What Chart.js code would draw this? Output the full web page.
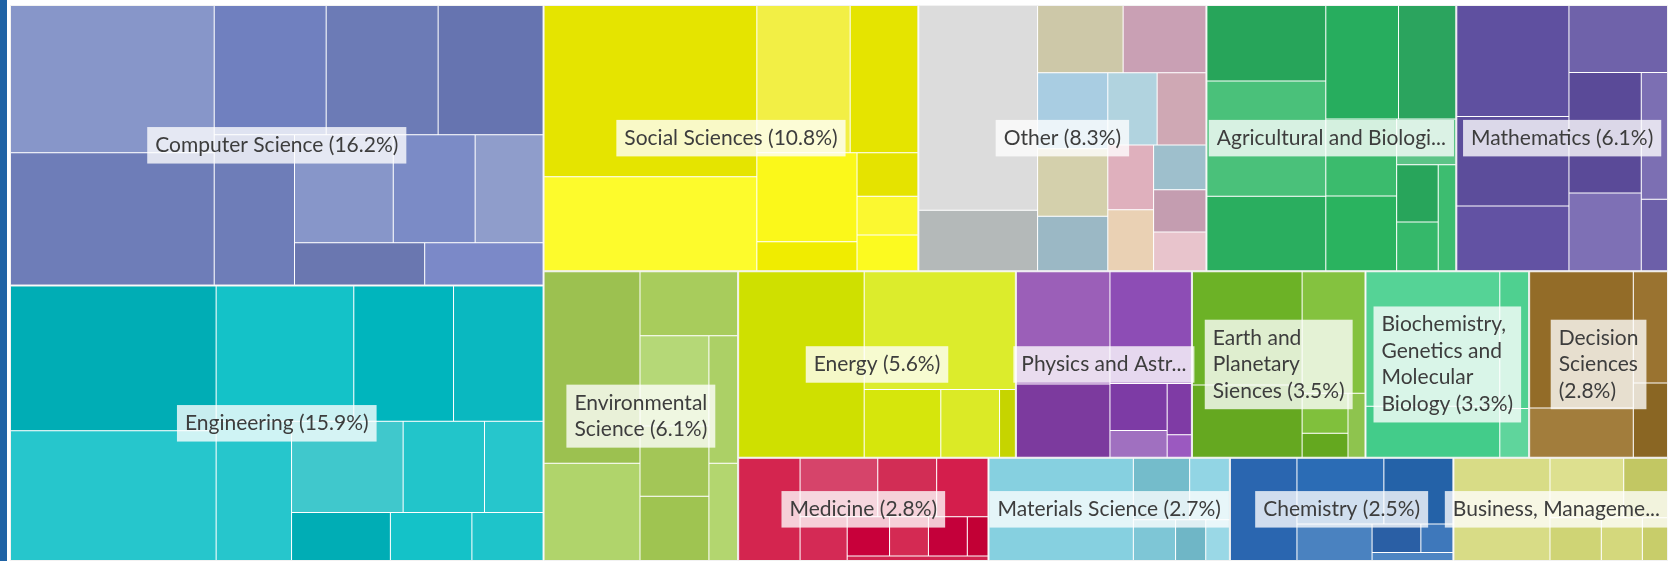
<!DOCTYPE html>
<html>
<head>
<meta charset="utf-8">
<script src="https://cdn.jsdelivr.net/npm/chart.js@4.4.1/dist/chart.umd.min.js"></script>
<style>
  body { margin: 0; background: #fff; }
  #wrap { position: relative; width: 1668px; height: 561px; }
  #frame { position: absolute; left: 0; top: 0; width: 7px; height: 561px; background: #1f63a5; }
</style>
</head>
<body>
<div id="wrap">
  <div id="frame"></div>
  <canvas id="myChart"></canvas>
</div>
<script>
// subject areas, share of output (%)
var categories = ['Computer Science', 'Engineering', 'Social Sciences', 'Other',
    'Agricultural and Biological Sciences', 'Mathematics', 'Environmental Science', 'Energy',
    'Physics and Astronomy', 'Earth and Planetary Sciences', 'Biochemistry, Genetics and Molecular Biology',
    'Decision Sciences', 'Medicine', 'Materials Science', 'Chemistry', 'Business, Management and Accounting'];
var shares = [16.2, 15.9, 10.8, 8.3, 7.2, 6.1, 6.1, 5.6, 3.55, 3.5, 3.3, 2.8, 2.8, 2.7, 2.5, 2.4];
// label text as shown on the chart
var labelText = [
    'Computer Science (16.2%)',
    'Engineering (15.9%)',
    'Social Sciences (10.8%)',
    'Other (8.3%)',
    'Agricultural and Biologi...',
    'Mathematics (6.1%)',
    'Environmental\nScience (6.1%)',
    'Energy (5.6%)',
    'Physics and Astr...',
    'Earth and\nPlanetary\nSiences (3.5%)',
    'Biochemistry,\nGenetics and\nMolecular\nBiology (3.3%)',
    'Decision\nSciences\n(2.8%)',
    'Medicine (2.8%)',
    'Materials Science (2.7%)',
    'Chemistry (2.5%)',
    'Business, Manageme...'
];
// sub-cells of every area (relative sizes)
var subShares = [
    [249, 224, 120, 120, 113, 100, 88, 73, 61, 46, 42],
    [250, 224, 156, 113, 102, 88, 85, 62, 45, 40, 33, 29],
    [247, 136, 93, 68, 60, 20, 18, 16, 15],
    [165, 49, 39, 38, 36, 32, 26, 24, 24, 20, 19, 16, 15, 14],
    [80, 121, 79, 73, 58, 48, 47, 24, 21, 18, 17],
    [111, 89, 65, 59, 77, 50, 30, 17],
    [149, 76, 51, 50, 39, 36, 30, 23],
    [211, 161, 47, 36, 10],
    [75, 49, 65, 19, 11, 9, 4],
    [89, 57, 55, 13, 8, 8],
    [126, 48, 28, 10],
    [55, 20, 15, 10],
    [46, 33, 25, 22, 15, 12, 11, 11, 6, 5],
    [60, 14, 10, 7, 5, 4],
    [30, 25, 20, 12, 6, 4, 3],
    [45, 20, 12, 10, 8, 5]
];
var subColors = [
    ['#8796c9', '#6e7db8', '#7080bf', '#6c7bb6', '#6674b0', '#6e7db8', '#8796c9', '#7b8bc6', '#8f9dcb', '#6a77b0', '#7b89c8'],
    ['#00adb5', '#26c6cc', '#14c2c8', '#00b5bd', '#0ab8c0', '#26c6cc', '#40c8cc', '#22c5ca', '#26c6cc', '#00adb5', '#14c2c8', '#1ec4ca'],
    ['#e5e400', '#fdfb2c', '#f2ef45', '#e5e400', '#fbf81a', '#f0ec00', '#e5e300', '#fbf830', '#fcfa20'],
    ['#dcdcdc', '#b4b9b9', '#cdc8a8', '#c9a0b4', '#a9cde2', '#d4d0ac', '#9bb8c5', '#b1d3df', '#cfa8b4', '#dfb0bd', '#ead1b4', '#9ebfcc', '#c49db0', '#e8c4cc'],
    ['#27a55a', '#4ac17a', '#2aae5f', '#27ad5e', '#2ba45e', '#3bbb6d', '#2ab35f', '#5cc487', '#28a55b', '#35b86a', '#3dbd70'],
    ['#5f50a0', '#5c4d9b', '#6252a3', '#6f62aa', '#5a4a98', '#7e70b5', '#7c6fb3', '#6c5fa9'],
    ['#9cc150', '#b0d46b', '#a8cc5c', '#b5d877', '#a3c657', '#9fc451', '#acd066', '#b3d66f'],
    ['#cfe000', '#dcec2c', '#d6e60c', '#dbea26', '#c6d400'],
    ['#9b5fb8', '#7c3a9e', '#8d4db5', '#7d3ba5', '#a070c0', '#7f3ba5', '#9b59c0'],
    ['#6cb226', '#65a820', '#84c23f', '#80c03c', '#64a81f', '#8ec44e'],
    ['#55d396', '#43cc8a', '#4fd090', '#5fd59c'],
    ['#936c28', '#a27d3c', '#9a7330', '#8a6623'],
    ['#d4254f', '#d6446a', '#d22d55', '#d41e4c', '#d42a55', '#c8003a', '#d42a53', '#c4003a', '#c20035', '#d2244f'],
    ['#86d0e0', '#74bccb', '#92d5e4', '#7ec6d6', '#6fb6c6', '#9ad8e6'],
    ['#2a66b0', '#2b6cb5', '#2462a8', '#4a82c0', '#2a5fa5', '#3e78bb', '#4d85c3'],
    ['#d8dc86', '#dde08f', '#c2c763', '#cfd475', '#d4d87c', '#c8cd6a']
];

// squarified layout (same steps as the Highcharts treemap)
function ratio(a, b) { return Math.max(a / b, b / a); }

function addElement(g, el) {
    var last = g.elArr[g.elArr.length - 1];
    g.total = g.total + el;
    if (g.direction === 0) {
        g.lW = g.nW;
        g.lR = ratio(g.lW, last / g.lW);
        g.nW = g.total / g.height;
        g.nR = ratio(g.nW, last / g.nW);
    } else {
        g.lH = g.nH;
        g.lR = ratio(last / g.lH, g.lH);
        g.nH = g.total / g.width;
        g.nR = ratio(last / g.nH, g.nH);
    }
    g.elArr.push(el);
}

function calcPoints(g, last, out, plot, parent) {
    var gW = g.lW, gH = g.lH, pTot;
    var end = g.elArr.length - 1;
    if (last) { gW = g.nW; gH = g.nH; } else { pTot = g.elArr[end]; }
    g.elArr.forEach(function(p, i) {
        if (last || i < end) {
            var pW, pH;
            if (g.direction === 0) { pW = gW; pH = p / pW; } else { pH = gH; pW = p / pH; }
            out.push({ x: plot.x, y: plot.y, width: pW, height: pH });
            if (g.direction === 0) plot.y += pH; else plot.x += pW;
        }
    });
    g.nW = 0; g.lW = 0; g.elArr = []; g.total = 0;
    if (g.direction === 0) g.width -= gW; else g.height -= gH;
    plot.y = parent.y + (parent.height - g.height);
    plot.x = parent.x + (parent.width - g.width);
    g.direction = 1 - g.direction;
    if (!last) addElement(g, pTot);
}

function squarify(parent, values) {
    var sum = values.reduce(function(a, b) { return a + b; }, 0);
    var g = { height: parent.height, width: parent.width, direction: 0, total: 0,
              nW: 0, lW: 0, nH: 0, lH: 0, lR: NaN, nR: NaN, elArr: [] };
    var plot = { x: parent.x, y: parent.y };
    var out = [];
    values.forEach(function(v, i) {
        addElement(g, parent.width * parent.height * v / sum);
        if (g.nR > g.lR) calcPoints(g, false, out, plot, parent);
        if (i === values.length - 1) calcPoints(g, true, out, plot, parent);
    });
    return out;
}

function buildLayout(w, h) {
    var groups = squarify({ x: 0, y: 0, width: w, height: h }, shares);
    var leaves = [];
    groups.forEach(function(g, i) {
        squarify(g, subShares[i]).forEach(function(r) { leaves.push(r); });
    });
    return { groups: groups, leaves: leaves };
}

// a small dataset controller that places bar elements as treemap cells
class TreemapController extends Chart.DatasetController {
    parse(start, count) {
        this._cachedMeta._parsed = this.getDataset().data.map(function(v) { return { v: v }; });
    }
    update(mode) {
        var meta = this._cachedMeta;
        this.updateElements(meta.data, 0, meta.data.length, mode);
    }
    updateElements(rects, start, count, mode) {
        var xScale = this._cachedMeta.xScale, yScale = this._cachedMeta.yScale;
        var w = xScale.width, h = yScale.height;
        var cells = buildLayout(w, h)[this.getDataset().level];
        for (var i = start; i < start + count; i++) {
            var r = cells[i];
            var left = xScale.getPixelForValue(r.x / w * 100);
            var right = xScale.getPixelForValue((r.x + r.width) / w * 100);
            var top = yScale.getPixelForValue(r.y / h * 100);
            var bottom = yScale.getPixelForValue((r.y + r.height) / h * 100);
            Object.assign(rects[i], {
                x: (left + right) / 2, y: top, base: bottom,
                width: right - left, height: bottom - top,
                horizontal: false, inflateAmount: 0, borderSkipped: {},
                options: this.resolveDataElementOptions(i, mode)
            });
        }
    }
    draw() {
        var ctx = this._ctx;
        this._cachedMeta.data.forEach(function(el) { el.draw(ctx); });
    }
}
TreemapController.id = 'treemap';
TreemapController.defaults = { datasetElementType: false, dataElementType: 'bar' };
Chart.register(TreemapController);

var leafValues = [], leafColors = [];
subShares.forEach(function(list, i) {
    list.forEach(function(v, j) { leafValues.push(v); leafColors.push(subColors[i][j]); });
});

var labelPlugin = {
    id: 'cellLabels',
    afterDatasetsDraw: function(chart) {
        var ctx = chart.ctx;
        var area = chart.chartArea;
        var groups = chart.getDatasetMeta(0).data;
        ctx.save();
        ctx.font = '21px Lato';
        ctx.textBaseline = 'middle';
        ctx.textAlign = 'left';
        groups.forEach(function(el, i) {
            var c = el.getCenterPoint();
            var lines = labelText[i].split('\n');
            var tw = Math.max.apply(null, lines.map(function(l) { return ctx.measureText(l).width; }));
            var lineH = 26.5, padX = 8, padY = 5;
            var bw = tw + padX * 2, bh = lines.length * lineH + padY * 2;
            var bx = Math.min(c.x - bw / 2, area.right - bw);
            var by = c.y - bh / 2;
            ctx.fillStyle = 'rgba(255,255,255,0.78)';
            ctx.fillRect(bx, by, bw, bh);
            ctx.fillStyle = '#3d3d3d';
            lines.forEach(function(l, k) {
                ctx.fillText(l, bx + padX, by + padY + lineH * (k + 0.5));
            });
        });
        ctx.restore();
    }
};

var chartInstance = new Chart(document.getElementById('myChart'), {
    type: 'treemap',
    data: {
        labels: categories,
        datasets: [{
            label: 'areas',
            level: 'groups',
            data: shares,
            order: 1,
            backgroundColor: 'rgba(0,0,0,0)',
            borderColor: '#f2f2f2',
            borderWidth: 1
        }, {
            label: 'sub-areas',
            level: 'leaves',
            data: leafValues,
            order: 2,
            backgroundColor: leafColors,
            borderColor: 'rgba(255,255,255,0.2)',
            borderWidth: 0.5
        }]
    },
    options: {
        responsive: true,
        maintainAspectRatio: false,
        animation: false,
        events: [],
        layout: { padding: { left: 10, top: 5, right: 0, bottom: 0 } },
        scales: {
            x: { type: 'linear', min: 0, max: 100, display: false },
            y: { type: 'linear', min: 0, max: 100, reverse: true, display: false }
        },
        plugins: {
            legend: { display: false },
            tooltip: { enabled: false },
            colors: { enabled: false }
        }
    },
    plugins: [labelPlugin]
});
</script>
</body>
</html>
